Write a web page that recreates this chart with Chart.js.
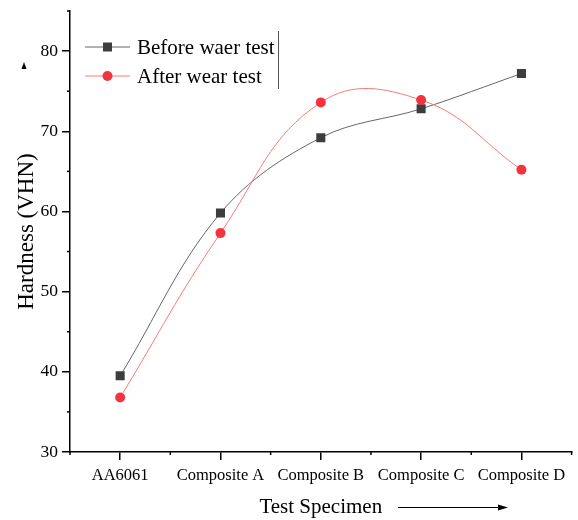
<html>
<head>
    <title>Hardness</title>
    <script src="https://cdn.jsdelivr.net/npm/chart.js"></script>
</head>
<style>
    body{ margin: 0; background: #fff; }
    #wrap{ width: 578px; height: 520px; }
</style>
<body>
<div id="wrap"><canvas id="chartCanvas" width="578" height="520"></canvas></div>

<script>
const categories = ['AA6061', 'Composite A', 'Composite B', 'Composite C', 'Composite D'];
const beforeWear = [39.5, 59.8, 69.2, 72.8, 77.2];
const afterWear = [36.8, 57.3, 73.6, 73.9, 65.2];
const seriesNames = ['Before waer test', 'After wear test'];
const yTicks = [30, 40, 50, 60, 70, 80];

const serif = "'Liberation Serif', 'Times New Roman', serif";

// x is linear so the minor ticks can sit between categories
const toPoints = arr => arr.map((v, i) => ({ x: i, y: v }));

const minorTicks = {
    id: 'minorTicks',
    afterDraw(chart) {
        const ctx = chart.ctx;
        const xs = chart.scales.x, ys = chart.scales.y;
        const area = chart.chartArea;
        ctx.save();
        ctx.strokeStyle = '#000';
        ctx.lineWidth = 1.5;
        for (let v = 35; v <= 85; v += 10) {
            const py = ys.getPixelForValue(v);
            ctx.beginPath();
            ctx.moveTo(area.left - 3, py);
            ctx.lineTo(area.left, py);
            ctx.stroke();
        }
        for (let v = -0.5; v <= 4.5; v += 1) {
            const px = xs.getPixelForValue(v);
            ctx.beginPath();
            ctx.moveTo(px, area.bottom);
            ctx.lineTo(px, area.bottom + 3);
            ctx.stroke();
        }

        // legend, drawn in Origin style (line through the marker)
        const ds = chart.data.datasets;
        const rows = [47, 76];
        ds.forEach((d, i) => {
            const y = rows[i];
            ctx.strokeStyle = d.borderColor;
            ctx.lineWidth = 1;
            ctx.beginPath();
            ctx.moveTo(85, y);
            ctx.lineTo(130, y);
            ctx.stroke();
            ctx.fillStyle = d.pointBackgroundColor;
            if (d.pointStyle === 'rect') {
                ctx.fillRect(103, y - 4.5, 9, 9);
            } else {
                ctx.beginPath();
                ctx.arc(107.5, y, 5, 0, Math.PI * 2);
                ctx.fill();
            }
            ctx.fillStyle = '#000';
            ctx.font = '21px ' + serif;
            ctx.textBaseline = 'middle';
            ctx.fillText(d.label, 137, y + 1);
        });
        ctx.strokeStyle = '#555';
        ctx.lineWidth = 1;
        ctx.beginPath();
        ctx.moveTo(278.5, 31);
        ctx.lineTo(278.5, 89);
        ctx.stroke();

        // arrow after the x title
        ctx.strokeStyle = '#000';
        ctx.beginPath();
        ctx.moveTo(398, 507.5);
        ctx.lineTo(500, 507.5);
        ctx.stroke();
        ctx.fillStyle = '#000';
        ctx.beginPath();
        ctx.moveTo(508, 507.5);
        ctx.lineTo(498, 504.5);
        ctx.lineTo(498, 510.5);
        ctx.closePath();
        ctx.fill();

        // small arrow head near the y axis
        ctx.beginPath();
        ctx.moveTo(24, 62);
        ctx.lineTo(21.5, 69);
        ctx.lineTo(26.5, 69);
        ctx.closePath();
        ctx.fill();
        ctx.restore();
    }
};

new Chart(document.getElementById('chartCanvas'), {
    type: 'line',
    data: {
        datasets: [
            {
                label: seriesNames[0],
                data: toPoints(beforeWear),
                borderColor: '#666666',
                borderWidth: 1,
                pointStyle: 'rect',
                pointRadius: 6.4,
                pointBackgroundColor: '#3d3d3d',
                pointBorderWidth: 0,
                tension: 0.36,
                order: 1
            },
            {
                label: seriesNames[1],
                data: toPoints(afterWear),
                borderColor: '#f77b7b',
                borderWidth: 1,
                pointStyle: 'circle',
                pointRadius: 5,
                pointBackgroundColor: '#f5333f',
                pointBorderWidth: 0,
                tension: 0.42,
                order: 0
            }
        ]
    },
    options: {
        responsive: false,
        animation: false,
        layout: { padding: { top: 11, right: 2, left: 0, bottom: 0 } },
        plugins: { legend: { display: false }, tooltip: { enabled: false } },
        scales: {
            x: {
                type: 'linear',
                min: -0.5,
                max: 4.5,
                afterFit: s => { s.height = 68; s.paddingLeft = 0; s.paddingRight = 0; },
                afterBuildTicks: s => { s.ticks = categories.map((c, i) => ({ value: i })); },
                border: { color: '#000', width: 1.5 },
                grid: { drawOnChartArea: false, drawTicks: true, tickLength: 8, tickColor: '#000', lineWidth: 1.5 },
                ticks: {
                    color: '#000',
                    font: { family: serif, size: 16.5 },
                    padding: 6,
                    maxRotation: 0,
                    autoSkip: false,
                    callback: v => categories[v]
                },
                title: { display: true, text: 'Test Specimen', color: '#000', font: { family: serif, size: 21 }, padding: { bottom: 0, top: 0 } }
            },
            y: {
                min: 30,
                max: 85,
                afterFit: s => { s.width = 70; s.paddingTop = 0; s.paddingBottom = 0; },
                afterBuildTicks: s => { s.ticks = yTicks.map(v => ({ value: v })); },
                border: { color: '#000', width: 1.5 },
                grid: { drawOnChartArea: false, drawTicks: true, tickLength: 8, tickColor: '#000', lineWidth: 1.5 },
                ticks: {
                    color: '#000',
                    font: { family: serif, size: 17.5 },
                    padding: 4
                },
                title: { display: true, text: 'Hardness (VHN)', color: '#000', font: { family: serif, size: 23 }, padding: { top: 13, bottom: 0 } }
            }
        }
    },
    plugins: [minorTicks]
});
</script>
</body>
</html>
